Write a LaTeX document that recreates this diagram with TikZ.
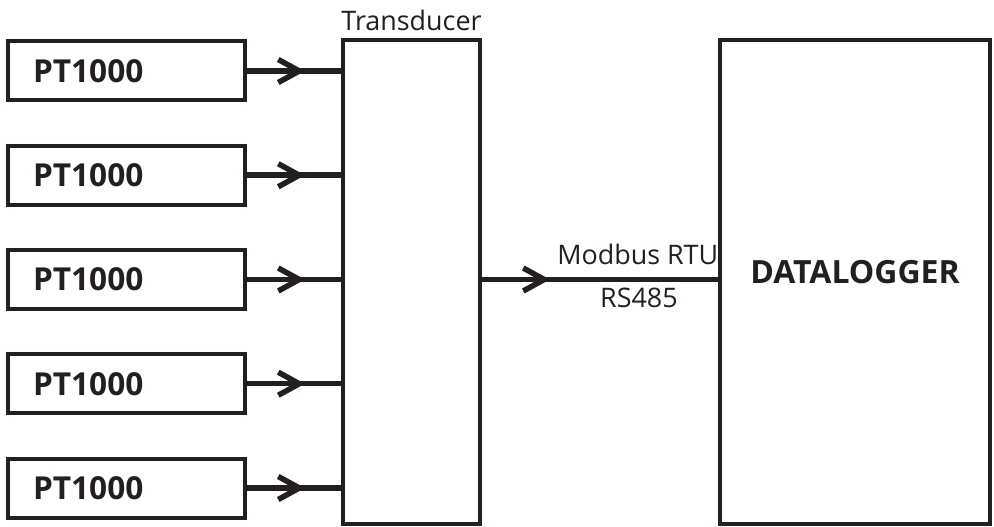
\documentclass[tikz,border=0pt]{standalone}
\usepackage{fontspec}
\setmainfont{Open Sans}
\usepackage{tikz}
\usepackage{xcolor}
\usetikzlibrary{arrows.meta, positioning, decorations.markings}
\definecolor{inkcolor}{HTML}{231F20}
\tikzset{
    sensor/.style={draw=inkcolor, line width=0.08cm, minimum width=4.74cm, minimum height=1.18cm, text width=3.74cm, inner xsep=0.5cm, align=left, text=inkcolor, font=\fontsize{18}{21}\selectfont\bfseries},
    bigbox/.style={draw=inkcolor, line width=0.08cm, minimum height=9.68cm},
    boxlabel/.style={inner sep=0pt, text=inkcolor, font=\fontsize{15.3}{18}\selectfont},
    sigline/.style={draw=inkcolor, line width=0.11cm, postaction={decorate}, decoration={markings, mark=at position #1 with {\arrow{Straight Barb[length=0.42cm, width=0.46cm]}}}},
}

\begin{document}
\begin{tikzpicture}[node distance=0.825cm and 1cm]
\useasboundingbox (0,0) rectangle (19.88,-10.54);

% sensors
\node[sensor] (pt1) at (2.53, -1.42) {PT1000};
\node[sensor, below=of pt1] (pt2) {PT1000};
\node[sensor, below=of pt2] (pt3) {PT1000};
\node[sensor, below=of pt3] (pt4) {PT1000};
\node[sensor, below=of pt4] (pt5) {PT1000};

% transducer and datalogger
\node[bigbox, minimum width=2.74cm] (trans) at (8.23, -5.64) {};
\node[boxlabel, above=0.14cm of trans] (translabel) {Transducer};

\node[bigbox, minimum width=5.4cm, right=4.72cm of trans] (dlog) {};
\node[text=inkcolor, font=\fontsize{18.2}{21}\selectfont\bfseries] (dlabel) at ([yshift=0.19cm]dlog.center) {DATALOGGER};

% signal lines
\draw[sigline=0.617] (pt1.east) -- (pt1 -| trans.west);
\draw[sigline=0.617] (pt2.east) -- (pt2 -| trans.west);
\draw[sigline=0.617] (pt3.east) -- (pt3 -| trans.west);
\draw[sigline=0.617] (pt4.east) -- (pt4 -| trans.west);
\draw[sigline=0.617] (pt5.east) -- (pt5 -| trans.west);

\draw[sigline=0.288] (pt3 -| trans.east) -- (pt3 -| dlog.west)
    node[boxlabel, pos=0.66, above=0.23cm] (modbus) {Modbus RTU}
    node[boxlabel, pos=0.665, below=0.12cm] (rs) {RS485};

\end{tikzpicture}
\end{document}
